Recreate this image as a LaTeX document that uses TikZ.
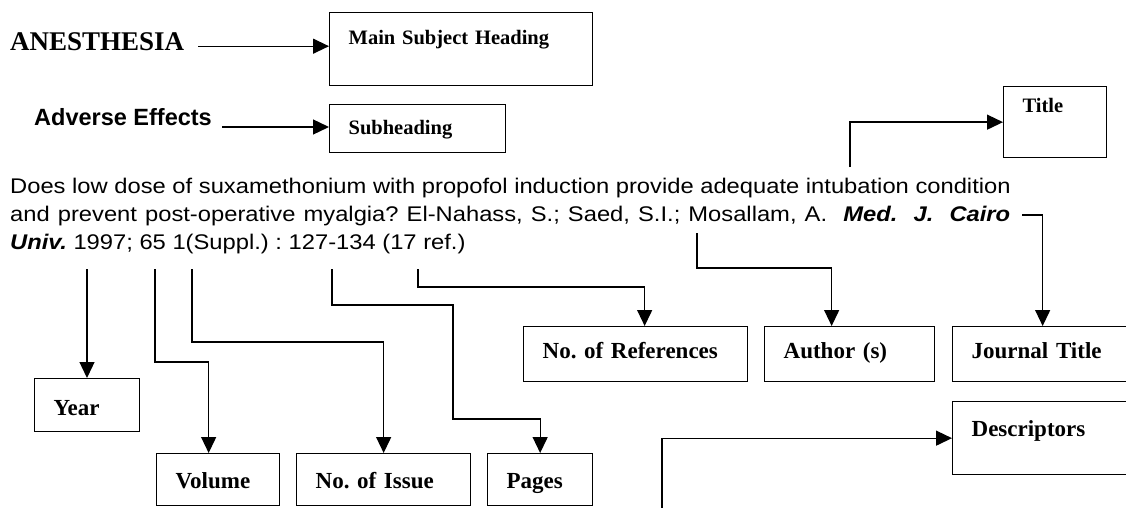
\documentclass[tikz,border=0pt]{standalone}
\usepackage{fontspec}
\setmainfont{Liberation Serif}
\newfontfamily\citefont[FakeStretch=1.12]{Liberation Sans}
\newfontfamily\headfont{Liberation Sans}
\usetikzlibrary{arrows.meta}
\frenchspacing
\tikzset{
  basic/.style  = {inner sep=0pt, anchor=base west},
  box/.style    = {draw, line width=1.3pt, anchor=north west, inner xsep=19pt,
                   inner ysep=0pt, align=left, font=\bfseries\fontsize{23}{26}\selectfont},
  topbox/.style = {box, font=\bfseries\fontsize{20.5}{24}\selectfont},
  cite/.style   = {basic, font=\citefont\fontsize{21.2}{27}\selectfont},
  link/.style   = {line width=1.3pt, -{Triangle[length=16pt,width=15pt]}}
}

\begin{document}
\begin{tikzpicture}[x=1pt,y=-1pt]
\useasboundingbox (0,0) rectangle (1126,508);

% headings
\node[basic, font=\bfseries\fontsize{27}{30}\selectfont] (anes) at (10,51) {ANESTHESIA};
\node[basic, font=\headfont\bfseries\fontsize{23.5}{26}\selectfont] (adv) at (34,125) {Adverse Effects};

\node[topbox, text width=225pt, text height=32pt, text depth=41pt] (msh) at (329,12) {Main Subject Heading};
\node[topbox, text width=138pt, text height=30pt, text depth=18pt] (sub) at (329,104) {Subheading};
\node[topbox, text width=65pt, text height=26pt, text depth=45pt] (title) at (1003,86) {Title};

% the citation
\node[cite] (line1) at (10,193) {Does low dose of suxamethonium with propofol induction provide adequate intubation condition};
\node[cite] (line2) at (10,221) {\hbox to 1000pt{and prevent post-operative myalgia? El-Nahass, S.; Saed, S.I.; Mosallam, A.\ \ \textbf{\textit{Med.}}\ \ \textbf{\textit{J.}}\ \ \textbf{\textit{Cairo}}}};
\node[cite] (line3) at (10,249) {\textbf{\textit{Univ.}} 1997; 65 1(Suppl.) : 127-134 (17 ref.)};

% parts of the citation
\node[box, text width=67pt, text height=37pt, text depth=16pt] (year) at (34,378) {Year};
\node[box, text width=85pt, text height=35pt, text depth=17pt] (volume) at (156,453) {Volume};
\node[box, text width=136pt, text height=35pt, text depth=17pt] (issue) at (296,453) {No. of Issue};
\node[box, text width=67pt, text height=35pt, text depth=17pt] (pages) at (487,453) {Pages};
\node[box, text width=186pt, text height=32pt, text depth=23pt] (refs) at (523,326) {No. of References};
\node[box, text width=132pt, text height=32pt, text depth=23pt] (author) at (764,326) {Author (s)};
\node[box, text width=142pt, text height=32pt, text depth=23pt] (journal) at (952,326) {Journal Title};
\node[box, text width=142pt, text height=35pt, text depth=38pt] (desc) at (952,401) {Descriptors};

% free ends of the connectors
\coordinate (t0) at (850,167);
\coordinate (j0) at (1022,215);
\coordinate (a0) at (697,233);
\coordinate (y0) at (87,269);
\coordinate (v0) at (155,269);
\coordinate (i0) at (192,269);
\coordinate (p0) at (332,269);
\coordinate (r0) at (418,269);
\coordinate (d0) at (662,508);

\draw[link] (anes.east) ++(14,4) coordinate (h1) -- (h1 -| msh.west);
\draw[link] (adv.base east) ++(10,2) coordinate (h2) -- (h2 -| sub.west);
\draw[link] (t0) |- (title.west);
\draw[link] (j0) -| (journal.north);
\draw[link] (a0) -- ++(0,35) -| ([xshift=-18pt]author.north);
\draw[link] (y0) -- (y0 |- year.north);
\draw[link] (v0) -- ++(0,93) -| ([xshift=-9.5pt]volume.north);
\draw[link] (i0) -- ++(0,73) -| (issue.north);
\draw[link] (p0) -- ++(0,36) -- ++(121,0) -- ++(0,114) -| (pages.north);
\draw[link] (r0) -- ++(0,18) -| ([xshift=9pt]refs.north);
\draw[link] (d0) |- (desc.west);
\end{tikzpicture}
\end{document}
